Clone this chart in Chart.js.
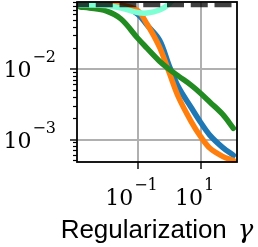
<!DOCTYPE html>
<html>
<head>
<meta charset="utf-8">
<script src="https://cdn.jsdelivr.net/npm/chart.js@4/dist/chart.umd.min.js"></script>
<style>
  html, body { margin: 0; padding: 0; background: #fff; }
  canvas { display: block; }
</style>
</head>
<body>
<canvas id="chart" width="258" height="247"></canvas>
<script>
// values
const gammas = [0.0015, 0.003, 0.01, 0.03, 0.1, 0.2, 0.5, 1, 2, 5, 10, 20, 50, 110]
const blueSeries = [0.083, 0.083, 0.083, 0.0825, 0.0617, 0.0429, 0.0262, 0.0115, 0.00559, 0.00289, 0.00177, 0.00115, 0.000776, 0.000597]
const orangeSeries = [0.0835, 0.0835, 0.0835, 0.0825, 0.069, 0.0444, 0.0208, 0.00915, 0.00402, 0.00182, 0.00111, 0.000751, 0.000577, 0.000506]
const greenSeries = [0.0776, 0.0751, 0.0681, 0.0523, 0.028, 0.0201, 0.0131, 0.0101, 0.00802, 0.00597, 0.00458, 0.00341, 0.0023, 0.00145]
const cyanGammas = [0.0015, 0.003, 0.01, 0.03, 0.1, 0.2, 0.5, 1, 2]
const cyanSeries = [0.083, 0.083, 0.0815, 0.0751, 0.0648, 0.0637, 0.0703, 0.0857, 0.127]
const dashedLevel = 0.083

const xRange = [0.0012, 144]
const yRange = [0.000479, 0.0914]
const xTicks = [0.1, 10]
const xTickExps = ["\u22121", "1"]
const yTicks = [0.01, 0.001]
const yTickExps = ["\u22122", "\u22123"]
const yMinorDecades = [0.0001, 0.001, 0.01]
const yMinorMantissas = [2, 3, 4, 5, 6, 7, 8, 9]
const xTitle = "Regularization"
const xTitleSymbol = "\u03b3"

const pts = (xs, ys) => xs.map((x, i) => ({ x: x, y: ys[i] }))

const yMinorTicks = []
yMinorDecades.forEach(d => yMinorMantissas.forEach(m => {
  const v = m * d
  if (v >= yRange[0] && v <= yRange[1]) yMinorTicks.push({ value: v })
}))

const baseFont = "22px 'DejaVu Serif'"
const expFont = "16px 'DejaVu Serif'"

function powerWidth(ctx, base, exp) {
  ctx.font = baseFont
  const w = ctx.measureText(base).width
  ctx.font = expFont
  return w + 1 + ctx.measureText(exp).width
}

function drawPower(ctx, base, exp, left, baseline) {
  ctx.font = baseFont
  ctx.fillText(base, left, baseline)
  const w = ctx.measureText(base).width
  ctx.font = expFont
  ctx.fillText(exp, left + w + 1, baseline - 15)
}

const frameAndLabels = {
  id: "frameAndLabels",
  afterDatasetsDraw(chart) {
    const { ctx, chartArea: a } = chart
    ctx.save()
    ctx.strokeStyle = "#000"
    ctx.lineWidth = 1.8
    ctx.strokeRect(a.left, a.top, a.right - a.left, a.bottom - a.top)
    ctx.restore()
  },
  afterDraw(chart) {
    const { ctx, chartArea: a } = chart
    const x = chart.scales.x
    const y = chart.scales.y
    ctx.save()
    ctx.fillStyle = "#000"
    ctx.textBaseline = "alphabetic"
    ctx.textAlign = "left"
    xTicks.forEach((v, i) => {
      const px = x.getPixelForValue(v)
      const w = powerWidth(ctx, "10", xTickExps[i])
      drawPower(ctx, "10", xTickExps[i], px - 6 - w / 2, 205)
    })
    yTicks.forEach((v, i) => {
      const py = y.getPixelForValue(v)
      const w = powerWidth(ctx, "10", yTickExps[i])
      drawPower(ctx, "10", yTickExps[i], 56 - w, py + 8)
    })
    // axis title, word in sans and the symbol in italic serif
    ctx.font = "26px 'Liberation Sans'"
    const w1 = ctx.measureText(xTitle).width
    ctx.font = "italic 26px 'DejaVu Serif'"
    const w2 = ctx.measureText(xTitleSymbol).width
    const gap = 11
    const left = (a.left + a.right) / 2 - (w1 + gap + w2) / 2
    ctx.font = "26px 'Liberation Sans'"
    ctx.fillText(xTitle, left, 238)
    ctx.font = "italic 26px 'DejaVu Serif'"
    ctx.fillText(xTitleSymbol, left + w1 + gap, 238)
    ctx.restore()
  }
}

const curve = (label, data, color, order) => ({
  label: label,
  data: data,
  borderColor: color,
  borderWidth: 5.5,
  pointRadius: 0,
  tension: 0.35,
  borderCapStyle: "round",
  clip: 0,
  order: order
})

new Chart(document.getElementById("chart"), {
  type: "line",
  data: {
    datasets: [
      {
        label: "level",
        data: pts(xRange, [dashedLevel, dashedLevel]),
        borderColor: "rgba(0, 0, 0, 0.75)",
        borderWidth: 4.5,
        borderDash: [17, 6.75],
        borderDashOffset: 5,
        pointRadius: 0,
        clip: 0,
        order: 0
      },
      curve("cyan", pts(cyanGammas, cyanSeries), "#7fffd4", 1),
      curve("green", pts(gammas, greenSeries), "#228b22", 2),
      curve("orange", pts(gammas, orangeSeries), "#ff7f0e", 3),
      curve("blue", pts(gammas, blueSeries), "#1f77b4", 4)
    ]
  },
  options: {
    responsive: false,
    animation: false,
    devicePixelRatio: 1,
    layout: { padding: { left: 0, right: 21, top: 2, bottom: 0 } },
    plugins: {
      legend: { display: false },
      tooltip: { enabled: false }
    },
    scales: {
      x: {
        type: "logarithmic",
        min: xRange[0],
        max: xRange[1],
        bounds: "data",
        afterBuildTicks: (s) => { s.ticks = xTicks.map(v => ({ value: v })) },
        afterFit: (s) => { s.height = 85 },
        ticks: { display: false },
        grid: { color: "#b0b0b0", lineWidth: 2, tickLength: 7, tickColor: "#000", tickWidth: 1.4 },
        border: { display: false }
      },
      y: {
        type: "logarithmic",
        position: "left",
        weight: 1,
        min: yRange[0],
        max: yRange[1],
        bounds: "data",
        afterBuildTicks: (s) => { s.ticks = yTicks.map(v => ({ value: v })) },
        afterFit: (s) => { s.width = 77 },
        ticks: { display: false },
        grid: { color: "#b0b0b0", lineWidth: 2, tickLength: 7, tickColor: "#000", tickWidth: 1.4 },
        border: { display: false }
      },
      yMinor: {
        type: "logarithmic",
        position: "left",
        weight: 0,
        min: yRange[0],
        max: yRange[1],
        bounds: "data",
        afterBuildTicks: (s) => { s.ticks = yMinorTicks.slice() },
        afterFit: (s) => { s.width = 0 },
        ticks: { display: false },
        grid: { drawOnChartArea: false, color: "rgba(0,0,0,0)", tickLength: 4, tickColor: "#000", tickWidth: 1.2 },
        border: { display: false }
      }
    }
  },
  plugins: [frameAndLabels]
})
</script>
</body>
</html>
